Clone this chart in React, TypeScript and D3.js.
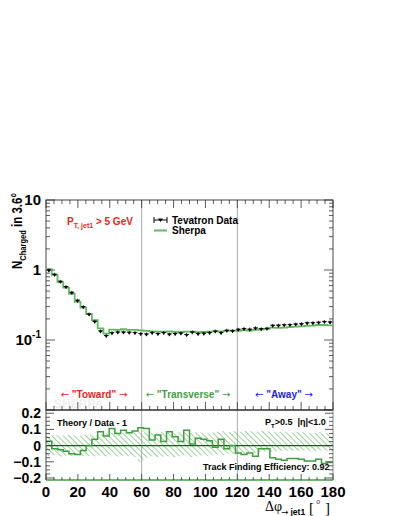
import React from "react";
import * as d3 from "d3";

// 50 bins of 3.6 degrees, Delta phi relative to leading jet
const binWidth = 3.6;
const tevatronData = [
  1.0, 0.87, 0.69, 0.58, 0.48, 0.37, 0.3, 0.235, 0.185, 0.135,
  0.116, 0.127, 0.13, 0.13, 0.129, 0.128, 0.124, 0.122, 0.128, 0.124,
  0.128, 0.122, 0.124, 0.126, 0.12, 0.13, 0.124, 0.125, 0.128, 0.134,
  0.128, 0.138, 0.136, 0.142, 0.146, 0.143, 0.149, 0.145, 0.147, 0.162,
  0.163, 0.165, 0.166, 0.169, 0.171, 0.176, 0.177, 0.179, 0.184, 0.181,
];
const ratio = [
  0.027, -0.02, -0.025, -0.035, -0.05, -0.055, -0.03, 0.0, 0.04, 0.085,
  0.06, 0.105, 0.075, 0.095, 0.08, 0.09, 0.11, 0.105, 0.035, 0.065,
  0.025, 0.085, 0.055, 0.025, 0.095, 0.01, 0.045, 0.04, 0.03, -0.01,
  0.04, -0.02, 0.0, -0.045, -0.055, -0.045, -0.065, -0.02, -0.02, -0.075,
  -0.085, -0.09, -0.08, -0.08, -0.085, -0.095, -0.095, -0.085, -0.11, -0.105,
];
const bandHi = [
  0.06, 0.065, 0.062, 0.066, 0.064, 0.06, 0.065, 0.068, 0.062, 0.07,
  0.075, 0.08, 0.085, 0.078, 0.082, 0.088, 0.09, 0.085, 0.08, 0.078,
  0.085, 0.08, 0.075, 0.082, 0.08, 0.078, 0.085, 0.08, 0.075, 0.085,
  0.09, 0.082, 0.088, 0.085, 0.09, 0.088, 0.085, 0.09, 0.088, 0.085,
  0.082, 0.085, 0.08, 0.085, 0.082, 0.08, 0.078, 0.082, 0.075, 0.078,
];
const bandLo = [
  -0.065, -0.06, -0.068, -0.062, -0.065, -0.06, -0.065, -0.062, -0.066, -0.06,
  -0.065, -0.06, -0.068, -0.062, -0.065, -0.07, -0.1, -0.075, -0.065, -0.07,
  -0.068, -0.065, -0.07, -0.065, -0.06, -0.07, -0.065, -0.06, -0.065, -0.055,
  -0.06, -0.05, -0.055, -0.045, -0.05, -0.04, -0.045, -0.04, -0.035, -0.04,
  -0.035, -0.03, -0.035, -0.03, -0.035, -0.03, -0.035, -0.03, -0.03, -0.035,
];
const sherpa = tevatronData.map((d, i) => d * (1 + ratio[i]));

const xTicks = [0, 20, 40, 60, 80, 100, 120, 140, 160, 180];
const regionLines = [60, 120];
const ratioTicks = [0.2, 0.1, 0, -0.1, -0.2];
const regions = [
  { label: '"Toward"', center: 94, color: "#ee2222" },
  { label: '"Transverse"', center: 188, color: "#3f9f3f" },
  { label: '"Away"', center: 284, color: "#2222ee" },
];

const FONT = "'Liberation Sans', Arial, sans-serif";
const ARROW_FONT = "'DejaVu Sans', sans-serif";
const GREEN = "#3f9f3f";
const LIGHT_GREEN = "#63b963";

const L = 46, R = 333, T = 200, MID = 410, B = 480;

export default function App() {
  const x = d3.scaleLinear().domain([0, 180]).range([L, R]);
  const y = d3.scaleLog().domain([0.01, 10]).range([MID, T]);
  const yr = d3.scaleLinear().domain([-0.2125, 0.22]).range([B, MID]);

  const stepPath = (vals: number[], sy: (v: number) => number) => {
    let p = "";
    vals.forEach((v, i) => {
      const x0 = x(i * binWidth), x1 = x((i + 1) * binWidth);
      p += (i === 0 ? `M${x0},${sy(v)}` : `L${x0},${sy(v)}`) + `L${x1},${sy(v)}`;
    });
    return p;
  };

  const bandPath = () => {
    let top = "", bot = "";
    bandHi.forEach((v, i) => {
      const x0 = x(i * binWidth), x1 = x((i + 1) * binWidth);
      top += (i === 0 ? "M" : "L") + `${x0},${yr(v)}L${x1},${yr(v)}`;
    });
    for (let i = bandLo.length - 1; i >= 0; i--) {
      const x0 = x(i * binWidth), x1 = x((i + 1) * binWidth);
      bot += `L${x1},${yr(bandLo[i])}L${x0},${yr(bandLo[i])}`;
    }
    return top + bot + "Z";
  };

  // minor ticks
  const xMinor = d3.range(0, 181, 5);
  const logMinor: number[] = [];
  [0.01, 0.1, 1].forEach((dec) => {
    for (let k = 2; k <= 9; k++) logMinor.push(dec * k);
  });
  const rMinor = d3.range(-0.2, 0.2001, 0.025);

  const tickStyle = { stroke: "#333", strokeWidth: 0.8 };

  return (
    <svg width={399} height={516} style={{ display: "block", position: "absolute", left: 0, top: 0 }} fontFamily={FONT}>
      <defs>
        <pattern id="hatch" width="4" height="4" patternUnits="userSpaceOnUse" patternTransform="rotate(-45)">
          <line x1="0" y1="0" x2="0" y2="4" stroke={LIGHT_GREEN} strokeWidth="1.3" />
        </pattern>
        <clipPath id="ratioClip">
          <rect x={L} y={MID} width={R - L} height={B - MID} />
        </clipPath>
      </defs>
      <rect width={399} height={516} fill="#fff" />

      {/* watermark */}
      <text x={54} y={408} fontSize={12} fontWeight="bold" fill="#f0f0f0">SHERPA</text>

      {/* region separators */}
      {regionLines.map((v) => (
        <line key={v} x1={x(v)} x2={x(v)} y1={T} y2={B} stroke="#aaa" strokeWidth={1} />
      ))}

      {/* main frame */}
      <rect x={L} y={T} width={R - L} height={MID - T} fill="none" stroke="#444" strokeWidth={1} />

      {/* main ticks */}
      {xMinor.map((v) => {
        const len = v % 20 === 0 ? 8 : 4;
        return (
          <g key={"xm" + v}>
            <line x1={x(v)} x2={x(v)} y1={T} y2={T + len} {...tickStyle} />
            <line x1={x(v)} x2={x(v)} y1={MID} y2={MID - len} {...tickStyle} />
          </g>
        );
      })}
      {[0.01, 0.1, 1, 10].map((v) => (
        <g key={"ym" + v}>
          <line x1={L} x2={L + 9} y1={y(v)} y2={y(v)} {...tickStyle} />
          <line x1={R} x2={R - 9} y1={y(v)} y2={y(v)} {...tickStyle} />
        </g>
      ))}
      {logMinor.map((v, i) => (
        <g key={"ymn" + i}>
          <line x1={L} x2={L + 4} y1={y(v)} y2={y(v)} {...tickStyle} />
          <line x1={R} x2={R - 4} y1={y(v)} y2={y(v)} {...tickStyle} />
        </g>
      ))}

      {/* main y tick labels */}
      <text x={41} y={y(10) + 5} textAnchor="end" fontSize={15} fontWeight="bold">10</text>
      <text x={41} y={y(1) + 5} textAnchor="end" fontSize={15} fontWeight="bold">1</text>
      <text x={41} y={y(0.1) + 5} textAnchor="end" fontSize={15} fontWeight="bold">
        10<tspan dy={-7} fontSize={10}>-1</tspan>
      </text>

      {/* y title */}
      <text transform="translate(22,231) rotate(-90)" textAnchor="middle" fontSize={14.5} fontWeight="bold"
        textLength={76} lengthAdjust="spacingAndGlyphs">
        N<tspan dy={4} fontSize={9.5}>Charged</tspan><tspan dy={-4}> in 3.6°</tspan>
      </text>

      {/* sherpa step line */}
      <path d={stepPath(sherpa, y)} fill="none" stroke={LIGHT_GREEN} strokeWidth={1.8} />

      {/* data points */}
      {tevatronData.map((v, i) => {
        const cx = x((i + 0.5) * binWidth);
        const cy = y(v);
        const x0 = x(i * binWidth), x1 = x((i + 1) * binWidth);
        return (
          <g key={"d" + i}>
            <line x1={x0 + 0.5} x2={x1 - 0.5} y1={cy} y2={cy} stroke="#000" strokeWidth={0.8} />
            <line x1={cx} x2={cx} y1={cy - 1.5} y2={cy + 2} stroke="#000" strokeWidth={0.8} />
            <path d={`M${cx - 2},${cy - 0.5}L${cx + 2},${cy - 0.5}L${cx},${cy + 2.5}Z`} fill="#000" />
          </g>
        );
      })}

      {/* PT cut label */}
      <text x={67} y={225} fontSize={10} fontWeight="bold" fill="#ee2222">
        P<tspan dy={3} fontSize={7}>T, jet1</tspan><tspan dy={-3}> &gt; 5 GeV</tspan>
      </text>

      {/* legend */}
      <g>
        <line x1={154} x2={167} y1={220} y2={220} stroke="#000" strokeWidth={1} />
        <line x1={154} x2={154} y1={217} y2={223} stroke="#000" strokeWidth={1} />
        <line x1={167} x2={167} y1={217} y2={223} stroke="#000" strokeWidth={1} />
        <path d="M158,218.5L163,218.5L160.5,222Z" fill="#000" />
        <text x={172} y={224} fontSize={10} fontWeight="bold">Tevatron Data</text>
        <line x1={154} x2={167} y1={230.5} y2={230.5} stroke={LIGHT_GREEN} strokeWidth={2} />
        <text x={172} y={234} fontSize={10} fontWeight="bold">Sherpa</text>
      </g>

      {/* region labels */}
      {regions.map((r) => (
        <text key={r.label} x={r.center} y={398} textAnchor="middle" fontSize={10} fontWeight="bold" fill={r.color}>
          <tspan fontFamily={ARROW_FONT} fontWeight="normal">←</tspan> {r.label} <tspan fontFamily={ARROW_FONT} fontWeight="normal">→</tspan>
        </text>
      ))}

      {/* ratio panel */}
      <g clipPath="url(#ratioClip)">
        <path d={bandPath()} fill="url(#hatch)" stroke="none" />
      </g>
      <line x1={L} x2={R} y1={yr(0)} y2={yr(0)} stroke="#1e5a1e" strokeWidth={1.2} />
      <path d={stepPath(ratio, yr)} fill="none" stroke={GREEN} strokeWidth={1.5} />

      <line x1={L} x2={R} y1={MID} y2={MID} stroke="#222" strokeWidth={1.2} />
      <line x1={L} x2={L} y1={MID} y2={B} stroke="#444" strokeWidth={1} />
      <line x1={R} x2={R} y1={MID} y2={B} stroke="#888" strokeWidth={1} />
      <line x1={L} x2={R} y1={B} y2={B} stroke={GREEN} strokeWidth={1.5} />

      {xMinor.map((v) => {
        const len = v % 20 === 0 ? 6 : 3;
        return <line key={"rx" + v} x1={x(v)} x2={x(v)} y1={B} y2={B - len} {...tickStyle} />;
      })}
      {rMinor.map((v, i) => {
        const major = Math.abs(Math.round(v * 10) - v * 10) < 1e-6;
        const len = major ? 8 : 4;
        return (
          <g key={"ry" + i}>
            <line x1={L} x2={L + len} y1={yr(v)} y2={yr(v)} {...tickStyle} />
            <line x1={R} x2={R - len} y1={yr(v)} y2={yr(v)} {...tickStyle} />
          </g>
        );
      })}
      {ratioTicks.map((v) => (
        <text key={"rl" + v} x={41} y={yr(v) + 5} textAnchor="end" fontSize={14} fontWeight="bold">
          {v === 0 ? "0" : d3.format(".1f")(v)}
        </text>
      ))}

      <text x={57} y={426} fontSize={9} fontWeight="bold">Theory / Data - 1</text>
      <text x={265} y={425} fontSize={9} fontWeight="bold">
        P<tspan dy={3} fontSize={6}>T</tspan><tspan dy={-3}>&gt;0.5</tspan>
        <tspan dx={5}>|η|&lt;1.0</tspan>
      </text>
      <text x={203} y={470} fontSize={9} fontWeight="bold">Track Finding Efficiency: 0.92</text>

      {/* x tick labels */}
      {xTicks.map((v) => (
        <text key={"xl" + v} x={x(v)} y={497} textAnchor="middle" fontSize={15} fontWeight="bold">{v}</text>
      ))}

      {/* x title */}
      <text x={265} y={511} fontSize={14} fontFamily="'Liberation Serif', serif">Δφ</text>
      <text x={281} y={515} fontSize={8.5} fontWeight="bold">
        <tspan fontFamily={ARROW_FONT} fontWeight="normal">→</tspan> jet1
      </text>
      <text x={309} y={513} fontSize={15} fontFamily="'Liberation Serif', serif">[</text>
      <text x={316} y={508} fontSize={11} fontFamily="'Liberation Serif', serif">°</text>
      <text x={325} y={513} fontSize={15} fontFamily="'Liberation Serif', serif">]</text>
    </svg>
  );
}
